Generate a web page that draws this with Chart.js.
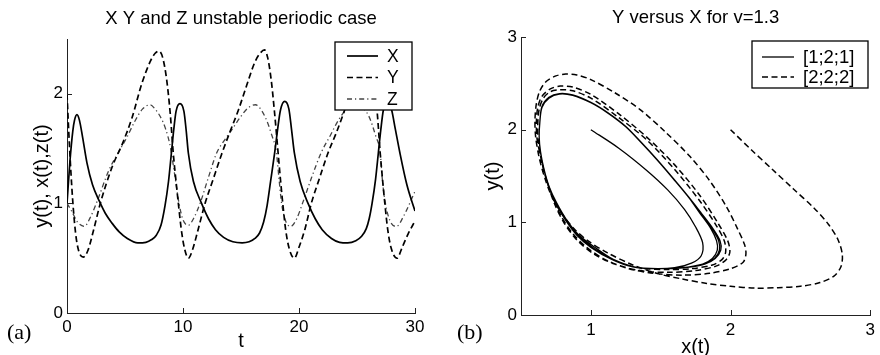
<!DOCTYPE html>
<html>
<head>
<meta charset="utf-8">
<script src="https://cdn.jsdelivr.net/npm/chart.js@4.4.1/dist/chart.umd.min.js"></script>
<style>
  html, body { margin: 0; padding: 0; background: #fff; overflow: hidden; width: 880px; height: 355px; }
  .caja { position: absolute; top: 0; }
  .letra { position: absolute; font-family: "Liberation Serif", serif; font-size: 22px; line-height: 22px; color: #000; }
</style>
</head>
<body>
<div class="caja" style="left:0;width:440px;height:355px"><canvas id="graficoA" width="440" height="355"></canvas></div>
<div class="caja" style="left:440px;width:440px;height:370px"><canvas id="graficoB" width="440" height="370"></canvas></div>
<div class="letra" style="left:7px;top:321px">(a)</div>
<div class="letra" style="left:457px;top:321px">(b)</div>
<script>
// Serie temporal (a)
const tiempoX = [0, 0.25, 0.5, 0.65, 0.86, 1.07, 1.35, 1.72, 2.2, 2.79, 3.3, 3.88, 4.5, 5.2, 6.1, 6.8, 7.3, 7.7, 8.1, 8.45,
  8.75, 9.0, 9.2, 9.4, 9.74, 10.08, 10.27, 10.46, 10.9, 11.6, 12.2, 12.8, 13.5, 14.3, 15.1, 15.7, 16.2, 16.6, 16.95, 17.25,
  17.55, 17.9, 18.15, 18.4, 18.77, 19.13, 19.35, 19.6, 20.1, 20.78, 21.4, 22.0, 22.8, 23.5, 24.2, 24.9, 25.4, 25.8, 26.05, 26.3,
  26.6, 26.84, 27.05, 27.27, 27.62, 27.99, 28.3, 28.7, 29.3, 30];
const valoresX = [1.0, 1.38, 1.66, 1.76, 1.81, 1.76, 1.6, 1.37, 1.17, 1.02, 0.91, 0.82, 0.74, 0.68, 0.64, 0.645, 0.67, 0.71, 0.8, 0.98,
  1.2, 1.46, 1.67, 1.84, 1.91, 1.84, 1.67, 1.46, 1.2, 1.0, 0.86, 0.76, 0.69, 0.65, 0.64, 0.65, 0.68, 0.73, 0.83, 0.98,
  1.2, 1.46, 1.67, 1.85, 1.93, 1.86, 1.68, 1.46, 1.2, 1.0, 0.86, 0.76, 0.68, 0.645, 0.64, 0.66, 0.7, 0.77, 0.86, 1.0,
  1.22, 1.46, 1.67, 1.85, 1.93, 1.85, 1.68, 1.46, 1.17, 0.93];

const tiempoY = [0, 0.2, 0.49, 0.75, 1.0, 1.4, 1.8, 2.3, 2.87, 3.88, 4.8, 5.6, 6.47, 7.2, 7.6, 7.93, 8.25, 8.59, 8.9, 9.16,
  9.4, 9.6, 9.88, 10.15, 10.46, 10.8, 11.3, 11.9, 12.6, 13.3, 14.0, 14.77, 15.5, 16.2, 16.65, 17.03, 17.3, 17.6, 17.9, 18.2,
  18.4, 18.6, 18.85, 19.15, 19.6, 20.0, 20.5, 21.06, 21.8, 22.5, 23.2, 23.9, 24.6, 25.2, 25.55, 25.85, 26.15, 26.45, 26.75, 27.0,
  27.2, 27.4, 27.65, 27.95, 28.45, 28.9, 29.4, 30];
const valoresY = [2.0, 1.55, 1.03, 0.72, 0.57, 0.51, 0.57, 0.76, 1.0, 1.33, 1.55, 1.78, 2.1, 2.3, 2.37, 2.39, 2.33, 2.13, 1.82, 1.46,
  1.2, 1.0, 0.74, 0.58, 0.5, 0.57, 0.76, 1.0, 1.22, 1.44, 1.64, 1.85, 2.08, 2.29, 2.37, 2.4, 2.33, 2.13, 1.82, 1.46,
  1.22, 1.0, 0.76, 0.59, 0.5, 0.6, 0.76, 1.0, 1.24, 1.46, 1.64, 1.84, 2.06, 2.28, 2.37, 2.4, 2.33, 2.13, 1.82, 1.46,
  1.22, 1.0, 0.76, 0.59, 0.5, 0.6, 0.72, 0.84];

const tiempoZ = [0, 0.4, 0.9, 1.5, 2.0, 2.6, 3.6, 4.4, 5.15, 5.8, 6.5, 7.18, 7.6, 8.05, 8.5, 8.9, 9.3, 9.66, 10.0, 10.46,
  10.9, 11.47, 12.2, 12.9, 13.6, 14.2, 14.9, 15.6, 16.25, 16.7, 17.2, 17.6, 18.05, 18.3, 18.5, 18.85, 19.3, 19.8, 20.3, 21.1,
  21.9, 22.7, 23.4, 24.1, 24.8, 25.4, 26.0, 26.6, 27.0, 27.2, 27.45, 27.85, 28.4, 29.0, 30];
const valoresZ = [1.0, 0.93, 0.83, 0.79, 0.87, 1.02, 1.3, 1.46, 1.6, 1.74, 1.86, 1.9, 1.86, 1.79, 1.68, 1.52, 1.25, 1.0, 0.85, 0.8,
  0.86, 1.0, 1.24, 1.46, 1.58, 1.67, 1.78, 1.87, 1.9, 1.86, 1.76, 1.64, 1.46, 1.2, 1.0, 0.84, 0.79, 0.86, 1.0, 1.24,
  1.46, 1.62, 1.76, 1.86, 1.9, 1.88, 1.8, 1.62, 1.46, 1.2, 1.0, 0.84, 0.79, 0.88, 1.11];

const nombresA = ["X", "Y", "Z"];
const ticksTiempo = [0, 10, 20, 30];
const ticksNivel = [0, 1, 2];

// Plano de fase (b)
const faseX121 = [1.0, 1.2, 1.4, 1.55, 1.67, 1.75, 1.8, 1.79, 1.72, 1.6,
  1.45, 1.3, 1.15, 1.0, 0.9, 0.82, 0.75, 0.7, 0.665, 0.64, 0.63, 0.635, 0.65, 0.7, 0.775, 0.87, 1.0, 1.12, 1.25, 1.36,
  1.47, 1.59, 1.7, 1.78, 1.86, 1.9, 1.905, 1.87, 1.8, 1.65,
  1.47, 1.3, 1.15, 1.0, 0.9, 0.82, 0.75, 0.7, 0.665, 0.64, 0.63, 0.635, 0.65, 0.7, 0.775, 0.87, 1.0, 1.12, 1.25, 1.36,
  1.47, 1.59, 1.7, 1.79, 1.87, 1.915, 1.92, 1.885, 1.81, 1.66,
  1.48, 1.31, 1.16, 1.02, 0.91, 0.825, 0.755, 0.7, 0.665, 0.64, 0.63, 0.635, 0.65, 0.7, 0.775, 0.87, 1.0, 1.12, 1.25, 1.36,
  1.47, 1.59, 1.7, 1.79, 1.875, 1.925, 1.93, 1.89, 1.815, 1.66,
  1.48, 1.31, 1.16, 1.02, 0.93];
const faseY121 = [2.0, 1.8, 1.56, 1.35, 1.14, 0.95, 0.78, 0.64, 0.56, 0.51,
  0.5, 0.52, 0.6, 0.73, 0.86, 1.02, 1.2, 1.38, 1.56, 1.75, 1.92, 2.08, 2.24, 2.34, 2.385, 2.37, 2.29, 2.18, 2.03, 1.86,
  1.68, 1.47, 1.27, 1.1, 0.93, 0.8, 0.7, 0.61, 0.55, 0.51,
  0.5, 0.52, 0.6, 0.74, 0.87, 1.03, 1.21, 1.39, 1.57, 1.76, 1.93, 2.09, 2.25, 2.35, 2.39, 2.375, 2.295, 2.185, 2.035, 1.865,
  1.685, 1.475, 1.275, 1.1, 0.93, 0.8, 0.7, 0.61, 0.55, 0.51,
  0.5, 0.52, 0.6, 0.74, 0.87, 1.03, 1.21, 1.39, 1.57, 1.76, 1.93, 2.09, 2.25, 2.35, 2.39, 2.375, 2.295, 2.185, 2.035, 1.865,
  1.685, 1.475, 1.275, 1.1, 0.93, 0.8, 0.7, 0.61, 0.55, 0.51,
  0.5, 0.52, 0.6, 0.72, 0.84];

const faseX222 = [2.0, 2.15, 2.3, 2.45, 2.6, 2.7, 2.77, 2.8, 2.79, 2.74, 2.64, 2.5, 2.34, 2.18, 2.0, 1.83, 1.65, 1.47, 1.3, 1.12,
  0.98, 0.88, 0.79, 0.72, 0.67, 0.63, 0.605, 0.6, 0.61, 0.635, 0.68, 0.75, 0.82, 0.9, 1.0, 1.17, 1.35, 1.53, 1.71, 1.85,
  1.97, 2.05, 2.1, 2.11, 2.09, 2.0, 1.85, 1.65, 1.45, 1.27, 1.1, 0.97, 0.87, 0.79, 0.73, 0.68, 0.645, 0.615, 0.61, 0.62,
  0.65, 0.71, 0.78, 0.87, 1.0, 1.2, 1.4, 1.6, 1.78, 1.91, 1.98, 1.995, 1.97, 1.9, 1.75, 1.55, 1.35, 1.17, 1.02, 0.9,
  0.81, 0.74, 0.69, 0.65, 0.625, 0.62, 0.63, 0.66, 0.71, 0.78, 0.87, 1.0, 1.2, 1.4, 1.6, 1.78, 1.9, 1.955, 1.965, 1.94,
  1.87, 1.72, 1.55, 1.38];
const faseY222 = [2.0, 1.78, 1.57, 1.36, 1.15, 0.98, 0.81, 0.65, 0.52, 0.42, 0.35, 0.31, 0.295, 0.29, 0.31, 0.34, 0.39, 0.45, 0.54, 0.67,
  0.8, 0.93, 1.1, 1.28, 1.48, 1.7, 1.92, 2.1, 2.28, 2.42, 2.52, 2.58, 2.6, 2.59, 2.54, 2.4, 2.22, 1.98, 1.71, 1.45,
  1.17, 0.93, 0.76, 0.66, 0.57, 0.5, 0.45, 0.43, 0.45, 0.5, 0.6, 0.73, 0.88, 1.06, 1.26, 1.47, 1.68, 1.9, 2.08, 2.24,
  2.36, 2.44, 2.47, 2.46, 2.38, 2.17, 1.92, 1.62, 1.29, 0.99, 0.8, 0.68, 0.6, 0.53, 0.48, 0.46, 0.48, 0.55, 0.66, 0.81,
  0.99, 1.2, 1.42, 1.64, 1.86, 2.05, 2.22, 2.34, 2.41, 2.43, 2.42, 2.34, 2.13, 1.89, 1.57, 1.23, 0.96, 0.8, 0.68, 0.6,
  0.54, 0.5, 0.49, 0.5];

const nombresB = ["[1;2;1]", "[2;2;2]"];
const ticksFaseX = [1, 2, 3];
const ticksFaseY = [0, 1, 2, 3];

const fuente = "'Liberation Sans', Arial, sans-serif";

function puntos(xs, ys) {
  return xs.map((x, i) => ({ x: x, y: ys[i] }));
}

// Ejes al estilo MATLAB: solo izquierda y abajo, marcas hacia dentro
function ejes(c) {
  return {
    x: {
      type: "linear", min: c.xmin, max: c.xmax,
      afterBuildTicks: s => { s.ticks = c.xticks.map(v => ({ value: v })); },
      afterFit: s => { s.height = c.altoX; },
      grid: { display: false, drawTicks: false },
      border: { display: true, color: "#222", width: 1 },
      ticks: { color: "#000", padding: c.padTickX, maxRotation: 0, autoSkip: false, font: { family: fuente, size: 17 } },
      title: { display: true, text: c.tituloX, color: "#000", font: { family: fuente, size: 20 }, padding: { top: 0, bottom: c.padTituloX } }
    },
    y: {
      type: "linear", min: c.ymin, max: c.ymax,
      afterBuildTicks: s => { s.ticks = c.yticks.map(v => ({ value: v })); },
      afterFit: s => { s.width = c.anchoY; },
      grid: { display: false, drawTicks: false },
      border: { display: true, color: "#222", width: 1 },
      ticks: { color: "#000", padding: 4, font: { family: fuente, size: 17 } },
      title: { display: true, text: c.tituloY, color: "#000", font: { family: fuente, size: 20 }, padding: { top: 0, bottom: 0 } }
    }
  };
}

function adornos(c) {
  return {
    id: "adornos",
    afterDatasetsDraw(chart) {
      const ctx = chart.ctx, a = chart.chartArea;
      const sx = chart.scales.x, sy = chart.scales.y;
      ctx.save();
      // marcas interiores
      ctx.strokeStyle = "#222";
      ctx.lineWidth = 1;
      ctx.setLineDash([]);
      ctx.beginPath();
      sx.ticks.forEach(t => {
        const px = Math.round(sx.getPixelForValue(t.value)) + 0.5;
        ctx.moveTo(px, a.bottom); ctx.lineTo(px, a.bottom - 5);
      });
      sy.ticks.forEach(t => {
        const py = Math.round(sy.getPixelForValue(t.value)) + 0.5;
        ctx.moveTo(a.left, py); ctx.lineTo(a.left + 5, py);
      });
      ctx.stroke();
      // titulo
      ctx.fillStyle = "#000";
      ctx.font = "18.5px " + fuente;
      ctx.textAlign = "center";
      ctx.textBaseline = "alphabetic";
      ctx.fillText(c.titulo, (a.left + a.right) / 2, c.baseTitulo);
      // leyenda
      const b = c.caja;
      ctx.fillStyle = "#fff";
      ctx.fillRect(b.x, b.y, b.w, b.h);
      ctx.strokeStyle = "#000";
      ctx.lineWidth = 1.3;
      ctx.strokeRect(b.x, b.y, b.w, b.h);
      ctx.font = b.fs + "px " + fuente;
      ctx.textAlign = "left";
      ctx.textBaseline = "middle";
      chart.data.datasets.forEach((ds, i) => {
        const y = b.y + b.y0 + i * b.dy;
        ctx.beginPath();
        ctx.setLineDash(ds.borderDash || []);
        ctx.strokeStyle = ds.borderColor;
        ctx.lineWidth = ds.borderWidth;
        ctx.moveTo(b.x + b.l0, y); ctx.lineTo(b.x + b.l1, y);
        ctx.stroke();
        ctx.setLineDash([]);
        ctx.fillStyle = "#000";
        ctx.fillText(ds.label, b.x + b.tx, y + 1);
      });
      ctx.restore();
    }
  };
}

const comunes = {
  responsive: false,
  animation: false,
  events: [],
  plugins: { legend: { display: false }, tooltip: { enabled: false } },
  elements: { point: { radius: 0 } }
};

new Chart(document.getElementById("graficoA").getContext("2d"), {
  type: "line",
  data: {
    datasets: [
      { label: nombresA[0], data: puntos(tiempoX, valoresX), borderColor: "#000", borderWidth: 1.7, cubicInterpolationMode: "monotone" },
      { label: nombresA[1], data: puntos(tiempoY, valoresY), borderColor: "#000", borderWidth: 1.7, borderDash: [6, 3.5], cubicInterpolationMode: "monotone" },
      { label: nombresA[2], data: puntos(tiempoZ, valoresZ), borderColor: "#444", borderWidth: 1.3, borderDash: [5, 3, 1.2, 3], cubicInterpolationMode: "monotone" }
    ]
  },
  options: Object.assign({}, comunes, {
    layout: { padding: { left: 30, top: 39, right: 25, bottom: 0 } },
    scales: ejes({
      xmin: 0, xmax: 30, xticks: ticksTiempo, altoX: 42, padTickX: 4, tituloX: "t", padTituloX: 1.5,
      ymin: 0, ymax: 2.5, yticks: ticksNivel, anchoY: 37, tituloY: "y(t), x(t),z(t)"
    })
  }),
  plugins: [adornos({
    titulo: "X Y and Z unstable periodic case", baseTitulo: 24,
    caja: { x: 335, y: 42, w: 77, h: 68, y0: 14, dy: 21.5, l0: 12, l1: 43, tx: 52, fs: 17.5 }
  })]
});

new Chart(document.getElementById("graficoB").getContext("2d"), {
  type: "scatter",
  data: {
    datasets: [
      { label: nombresB[0], data: puntos(faseX121, faseY121), showLine: true, borderColor: "#000", borderWidth: 1.3, tension: 0.3 },
      { label: nombresB[1], data: puntos(faseX222, faseY222), showLine: true, borderColor: "#000", borderWidth: 1.5, borderDash: [6, 3.5], tension: 0.3 }
    ]
  },
  options: Object.assign({}, comunes, {
    layout: { padding: { left: 41, top: 37, right: 8, bottom: 0 } },
    scales: ejes({
      xmin: 0.5, xmax: 3, xticks: ticksFaseX, altoX: 55, padTickX: 5, tituloX: "x(t)", padTituloX: 11,
      ymin: 0, ymax: 3, yticks: ticksFaseY, anchoY: 40, tituloY: "y(t)"
    })
  }),
  plugins: [adornos({
    titulo: "Y versus X for v=1.3", baseTitulo: 23,
    caja: { x: 312, y: 41, w: 116, h: 47, y0: 16, dy: 20, l0: 10, l1: 42, tx: 51, fs: 18.5 }
  })]
});
</script>
</body>
</html>
